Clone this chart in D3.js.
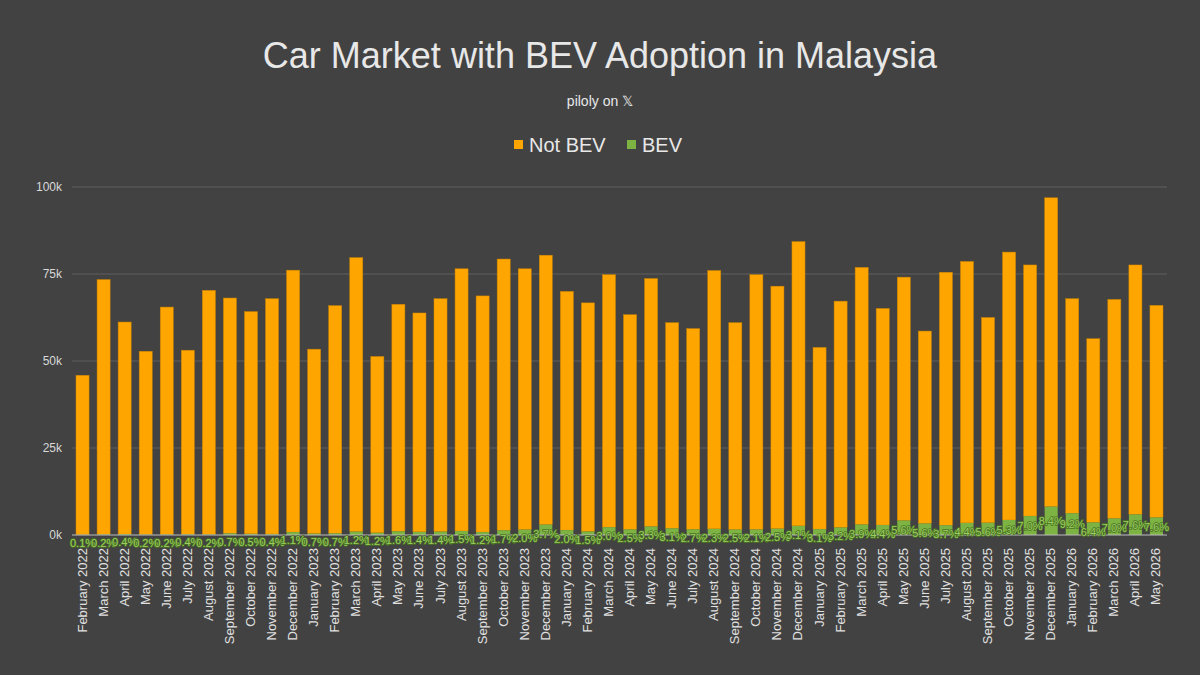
<!DOCTYPE html>
<html><head><meta charset="utf-8">
<script src="https://cdn.jsdelivr.net/npm/d3@7"></script>
<style>body{margin:0;background:#424242}svg{display:block}</style>
</head><body>
<script>
const months = ["February 2022","March 2022","April 2022","May 2022","June 2022","July 2022","August 2022","September 2022","October 2022","November 2022","December 2022",
"January 2023","February 2023","March 2023","April 2023","May 2023","June 2023","July 2023","August 2023","September 2023","October 2023","November 2023","December 2023",
"January 2024","February 2024","March 2024","April 2024","May 2024","June 2024","July 2024","August 2024","September 2024","October 2024","November 2024","December 2024",
"January 2025","February 2025","March 2025","April 2025","May 2025","June 2025","July 2025","August 2025","September 2025","October 2025","November 2025","December 2025",
"January 2026","February 2026","March 2026","April 2026","May 2026"];
const totalK = [45.9,73.4,61.2,52.8,65.5,53.1,70.3,68.1,64.2,67.9,76.1,
53.4,65.9,79.7,51.3,66.3,63.8,67.9,76.5,68.7,79.3,76.5,80.4,
70.0,66.7,74.8,63.3,73.7,61.0,59.3,76.0,61.0,74.8,71.5,84.3,
53.9,67.2,76.9,65.1,74.1,58.6,75.5,78.6,62.5,81.3,77.6,96.9,
67.9,56.4,67.7,77.6,66.0];
const bevShare = [0.1,0.2,0.4,0.2,0.2,0.4,0.2,0.7,0.5,0.4,1.1,
0.7,0.7,1.2,1.2,1.6,1.4,1.4,1.5,1.2,1.7,2.0,3.7,
2.0,1.5,3.0,2.5,3.3,3.1,2.7,2.3,2.5,2.1,2.5,3.1,
3.1,3.2,3.9,4.4,5.6,5.6,3.7,4.4,5.6,5.3,7.0,8.4,
9.2,6.4,7.0,7.6,7.6];
const yTicks = [0,25,50,75,100];
const tickLabels = ["0k","25k","50k","75k","100k"];

const W=1200,H=675, L=72, R=1167, T=187, B=535;
const svg=d3.select("body").append("svg").attr("width",W).attr("height",H);
svg.append("rect").attr("width",W).attr("height",H).attr("fill","#424242");
const x=d3.scaleBand().domain(months).range([L,R]).paddingInner(0.38).paddingOuter(0.19);
const y=d3.scaleLinear().domain([0,100]).range([B,T]);
const font="'Liberation Sans', Arial, sans-serif";

svg.append("text").attr("x",600).attr("y",68).attr("text-anchor","middle").attr("fill","#e8e8e8")
 .style("font",`36px ${font}`).text("Car Market with BEV Adoption in Malaysia");
svg.append("text").attr("x",600).attr("y",106).attr("text-anchor","middle").attr("fill","#e8e8e8")
 .style("font",`14px ${font}`).text("piloly on 𝕏");
const leg=svg.append("g").style("font",`20px ${font}`);
leg.append("rect").attr("x",514).attr("y",140).attr("width",9).attr("height",9).attr("fill","#ffa500");
leg.append("text").attr("x",529).attr("y",152).attr("fill","#e8e8e8").text("Not BEV");
leg.append("rect").attr("x",627).attr("y",140).attr("width",9).attr("height",9).attr("fill","#7cb342");
leg.append("text").attr("x",642).attr("y",152).attr("fill","#e8e8e8").text("BEV");

svg.append("g").selectAll("line").data(yTicks.slice(1)).join("line")
 .attr("x1",L).attr("x2",R).attr("y1",d=>y(d)).attr("y2",d=>y(d)).attr("stroke","#5e5e5e").attr("stroke-width",1.2);
svg.append("g").selectAll("text").data(yTicks).join("text")
 .attr("x",62).attr("y",d=>y(d)+4).attr("text-anchor","end").attr("fill","#d8d8d8")
 .style("font",`12px ${font}`).text((d,i)=>tickLabels[i]);

const data=months.map((m,i)=>({m,t:totalK[i],s:bevShare[i],b:totalK[i]*bevShare[i]/100}));
const g=svg.append("g");
g.selectAll(".nb").data(data).join("rect").attr("x",d=>x(d.m)).attr("width",x.bandwidth())
 .attr("y",d=>y(d.t)).attr("height",d=>y(d.b)-y(d.t)).attr("fill","#ffa500").attr("stroke","#c98200").attr("stroke-width",0.5);
g.selectAll(".bv").data(data).join("rect").attr("x",d=>x(d.m)).attr("width",x.bandwidth())
 .attr("y",d=>y(d.b)).attr("height",d=>B-y(d.b)).attr("fill","#7cb342");
svg.append("line").attr("x1",L).attr("x2",R).attr("y1",B).attr("y2",B).attr("stroke","#bdbdbd").attr("stroke-width",1);

svg.append("g").selectAll("text").data(data).join("text")
 .attr("x",d=>x(d.m)+x.bandwidth()/2)
 .attr("y",d=>{const h=B-y(d.b); return B-h/2+8*(1-Math.min(h,20)/20);})
 .attr("dominant-baseline","central")
 .attr("text-anchor","middle").attr("fill","#9ccc65").attr("stroke","#4a7320").attr("stroke-width",1.5)
 .attr("paint-order","stroke").style("font",`11px ${font}`).text(d=>d.s.toFixed(1)+"%");

svg.append("g").selectAll("text").data(data).join("text")
 .attr("transform",d=>`translate(${x(d.m)+x.bandwidth()/2+4},548) rotate(-90)`)
 .attr("text-anchor","end").attr("fill","#e0e0e0").style("font",`13px ${font}`).text(d=>d.m);
</script>
</body></html>
